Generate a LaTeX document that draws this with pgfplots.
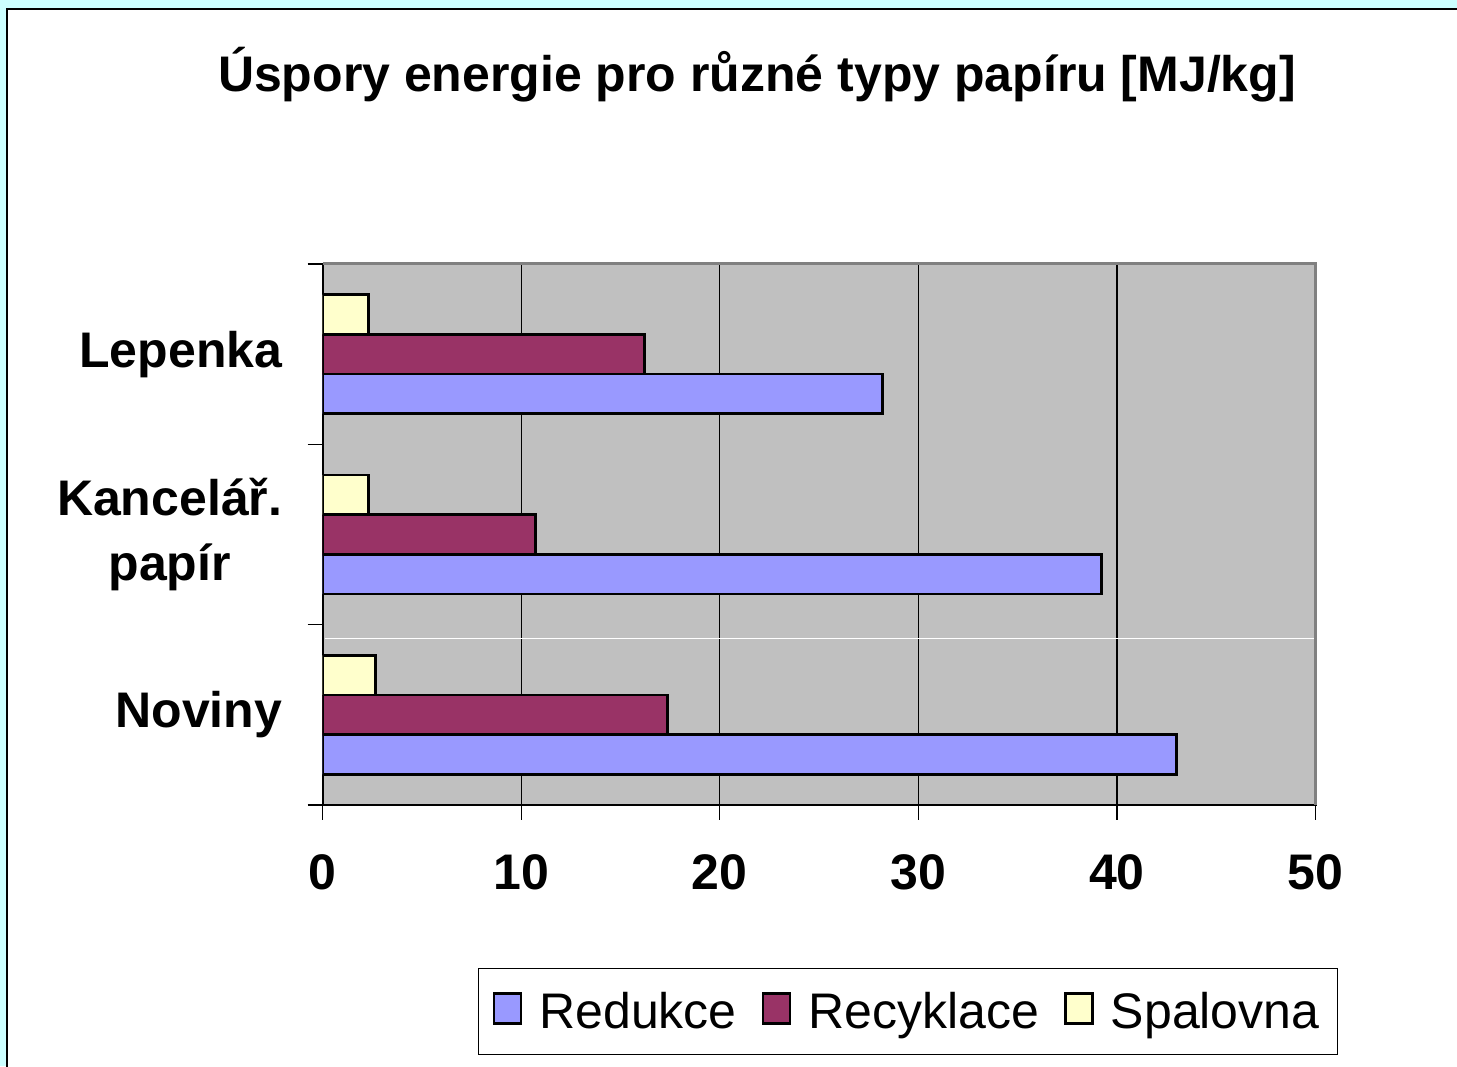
\documentclass[border=0pt]{standalone}
\usepackage{fontspec}
\setmainfont{Liberation Sans}
\usepackage{pgfplots}
\pgfplotsset{compat=1.18}
\definecolor{bgcyan}{HTML}{CCFFFF}
\definecolor{plotgray}{HTML}{C0C0C0}
\definecolor{framegray}{HTML}{808080}
\definecolor{redukce}{HTML}{9999FF}
\definecolor{recyklace}{HTML}{993366}
\definecolor{spalovna}{HTML}{FFFFCC}
\begin{document}
\begin{tikzpicture}
\useasboundingbox (0,0) rectangle (728.5pt,533pt);
\fill[bgcyan] (0,0) rectangle (728.5pt,533pt);
\filldraw[fill=white, draw=black, line width=1pt] (3.5pt,-10pt) rectangle (740pt,528.5pt);
\node[anchor=base, inner sep=0pt, font=\fontsize{25}{30}\selectfont\bfseries] at (378.5pt,487pt) {Úspory energie pro různé typy papíru [MJ/kg]};
\begin{axis}[
  at={(161.3pt,130.5pt)}, anchor=south west,
  scale only axis, width=496.5pt, height=270.5pt,
  xbar, bar width=0.22,
  xmin=0, xmax=50, ymin=-0.5, ymax=2.5,
  axis background/.style={fill=plotgray},
  axis line style={black, line width=0.9pt},
  xtick={0,10,...,50},
  ytick={-0.5,0.5,1.5,2.5},
  yticklabels={},
  extra y ticks={0,1,2},
  extra y tick labels={Noviny,{Kancelář.\\papír},Lepenka},
  extra y tick style={tick style={draw=none}},
  xtick pos=bottom, ytick pos=left,
  tick align=outside,
  major tick length=7.5pt,
  tick style={black, line width=0.6pt},
  xmajorgrids,
  major grid style={black, line width=0.6pt},
  /pgf/number format/assume math mode=true,
  xticklabel style={font=\fontsize{25}{30}\selectfont\bfseries, inner sep=0pt, anchor=north, yshift=-17pt},
  yticklabel style={font=\fontsize{25}{32.5}\selectfont\bfseries, align=center, inner sep=0pt, anchor=east, xshift=-12.5pt},
  every axis plot/.append style={draw=black, line width=1.4pt},
  legend columns=3,
  legend style={at={(0.5896,-0.3817)}, anchor=center, draw=black, line width=0.5pt,
    font=\fontsize{25}{30}\selectfont, inner xsep=7pt, inner ysep=9.5pt,
    /tikz/every even column/.append style={column sep=10.5pt}},
  legend image code/.code={\draw[#1, line width=1.3pt] (0pt,-6pt) rectangle (13.5pt,9pt); \path (20pt,0pt);},
  after end axis/.code={\draw[framegray, line width=1.5pt] (rel axis cs:0,1) -- (rel axis cs:1,1) -- (rel axis cs:1,0);},
]
\addplot[fill=redukce, bar shift=-0.22] coordinates {(43.0,0) (39.2,1) (28.2,2)};
\addplot[fill=recyklace, bar shift=0] coordinates {(17.35,0) (10.7,1) (16.2,2)};
\addplot[fill=spalovna, bar shift=0.22] coordinates {(2.65,0) (2.3,1) (2.3,2)};
\legend{Redukce,Recyklace,Spalovna}
\draw[white, line width=0.5pt] (axis cs:0.1,0.426) -- (axis cs:49.9,0.426);
\end{axis}
\end{tikzpicture}
\end{document}
